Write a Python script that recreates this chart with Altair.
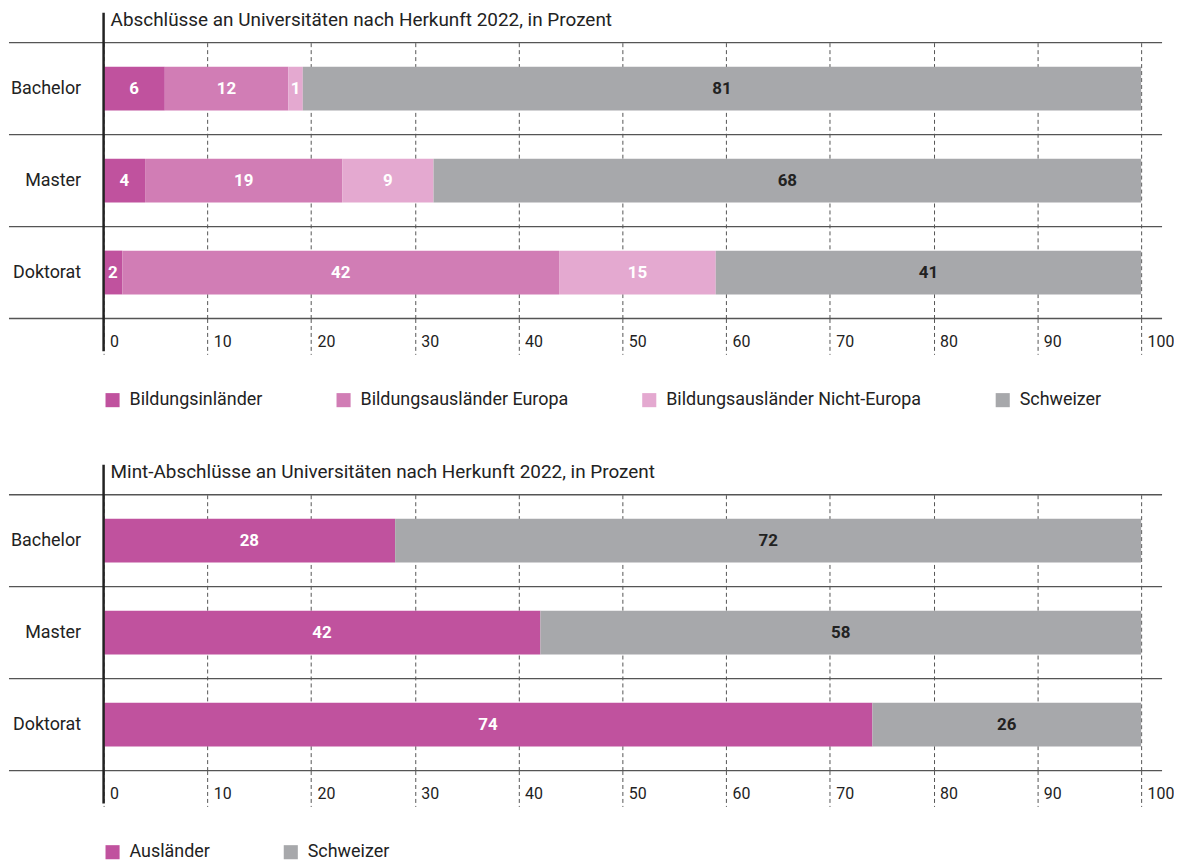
import altair as alt
import pandas as pd

FONT = "Roboto"
TXT = "#222222"

levels = ["Bachelor", "Master", "Doktorat"]
ticks = [0, 10, 20, 30, 40, 50, 60, 70, 80, 90, 100]

# Panel 1
title1 = "Abschlüsse an Universitäten nach Herkunft 2022, in Prozent"
groups1 = ["Bildungsinländer", "Bildungsausländer Europa", "Bildungsausländer Nicht-Europa", "Schweizer"]
colors1 = ["#c0529e", "#d17db5", "#e4a9d0", "#a7a8ab"]
inland = [5.9, 4.0, 1.8]
europa = [11.9, 19.0, 42.1]
nicht_europa = [1.4, 8.8, 15.1]
schweizer1 = [80.8, 68.2, 41.0]

# Panel 2
title2 = "Mint-Abschlüsse an Universitäten nach Herkunft 2022, in Prozent"
groups2 = ["Ausländer", "Schweizer"]
colors2 = ["#c0529e", "#a7a8ab"]
auslaender = [28.1, 42.1, 74.1]
schweizer2 = [71.9, 57.9, 25.9]

W, H = 1042, 277


def build_df(groups, series):
    rows = []
    for i, lev in enumerate(levels):
        start = 0.0
        for g, vals in zip(groups, series):
            v = vals[i]
            rows.append({
                "level": lev, "group": g, "value": v,
                "start": start, "end": start + v, "mid": start + v / 2,
                "label": str(int(round(v))),
                "dark": g == "Schweizer",
            })
            start += v
    return pd.DataFrame(rows)


def panel(df, groups, colors, title):
    yscale = alt.Scale(domain=levels, paddingInner=0, paddingOuter=0)
    xscale = alt.Scale(domain=[0, 100], nice=False, zero=True)
    y_axis = alt.Axis(title=None, domain=False, ticks=False, grid=False,
                      labelPadding=23, labelFontSize=18, labelColor=TXT,
                      labelFont=FONT)
    x_axis = alt.Axis(title=None, values=ticks, domain=False, grid=True,
                      gridDash=[4, 3], gridColor="#555555", gridWidth=1,
                      tickSize=36, tickDash=[4, 3], tickColor="#555555", tickWidth=1,
                      labelAlign="left", labelOffset=6, labelPadding=-21,
                      labelFontSize=16, labelColor=TXT, labelFont=FONT)

    def Y(**kw):
        return alt.Y("level:N", sort=levels, scale=yscale, axis=y_axis, **kw)

    base = alt.Chart(df)
    bars = base.mark_bar(size=44).encode(
        x=alt.X("start:Q", scale=xscale, axis=x_axis),
        x2="end:Q",
        y=Y(),
        color=alt.Color("group:N", scale=alt.Scale(domain=groups, range=colors),
                        legend=alt.Legend(title=None, orient="bottom", direction="horizontal",
                                          symbolType="square", symbolSize=200,
                                          symbolStrokeWidth=0, symbolOpacity=1,
                                          labelFontSize=18, labelFont=FONT, labelColor=TXT,
                                          labelLimit=400, labelOffset=8, columnPadding=72,
                                          gridAlign="none", offset=36, padding=0)),
    )
    txt_white = base.transform_filter("!datum.dark").mark_text(
        font=FONT, fontSize=17, fontWeight="bold", color="white").encode(
        x=alt.X("mid:Q", scale=xscale, axis=x_axis), y=Y(), text="label:N")
    txt_dark = base.transform_filter("datum.dark").mark_text(
        font=FONT, fontSize=17, fontWeight="bold", color=TXT).encode(
        x=alt.X("mid:Q", scale=xscale, axis=x_axis), y=Y(), text="label:N")

    lines_df = pd.DataFrame({"level": levels})
    rule_top = alt.Chart(lines_df).mark_rule(color="#555555", strokeWidth=1.3).encode(
        y=Y(bandPosition=0),
        x=alt.value(-95), x2=alt.value(W + 21))
    rule_bot = alt.Chart(lines_df).transform_filter(
        alt.datum.level == levels[-1]).mark_rule(color="#555555", strokeWidth=1.3).encode(
        y=Y(bandPosition=1),
        x=alt.value(-95), x2=alt.value(W + 21))
    zero_df = pd.DataFrame({"v": [0]})
    zero_line = alt.Chart(zero_df).mark_rule(color=TXT, strokeWidth=2.5).encode(
        x=alt.X("v:Q", scale=xscale, axis=x_axis), y=alt.value(-30), y2=alt.value(H + 33))

    return alt.layer(bars, rule_top, rule_bot, txt_white, txt_dark, zero_line).properties(
        width=W, height=H,
        title=alt.TitleParams(title, anchor="start", frame="group", dx=7, fontSize=19,
                              font=FONT, fontWeight="normal", color=TXT, offset=-18),
    )


p1 = panel(build_df(groups1, [inland, europa, nicht_europa, schweizer1]), groups1, colors1, title1)
p2 = panel(build_df(groups2, [auslaender, schweizer2]), groups2, colors2, title2)

chart = alt.vconcat(p1, p2, spacing=53).resolve_scale(color="independent").resolve_legend(
    color="independent").properties(padding=0).configure_view(stroke=None)

chart.save("out.html", embed_options={"renderer": "svg", "actions": False})
